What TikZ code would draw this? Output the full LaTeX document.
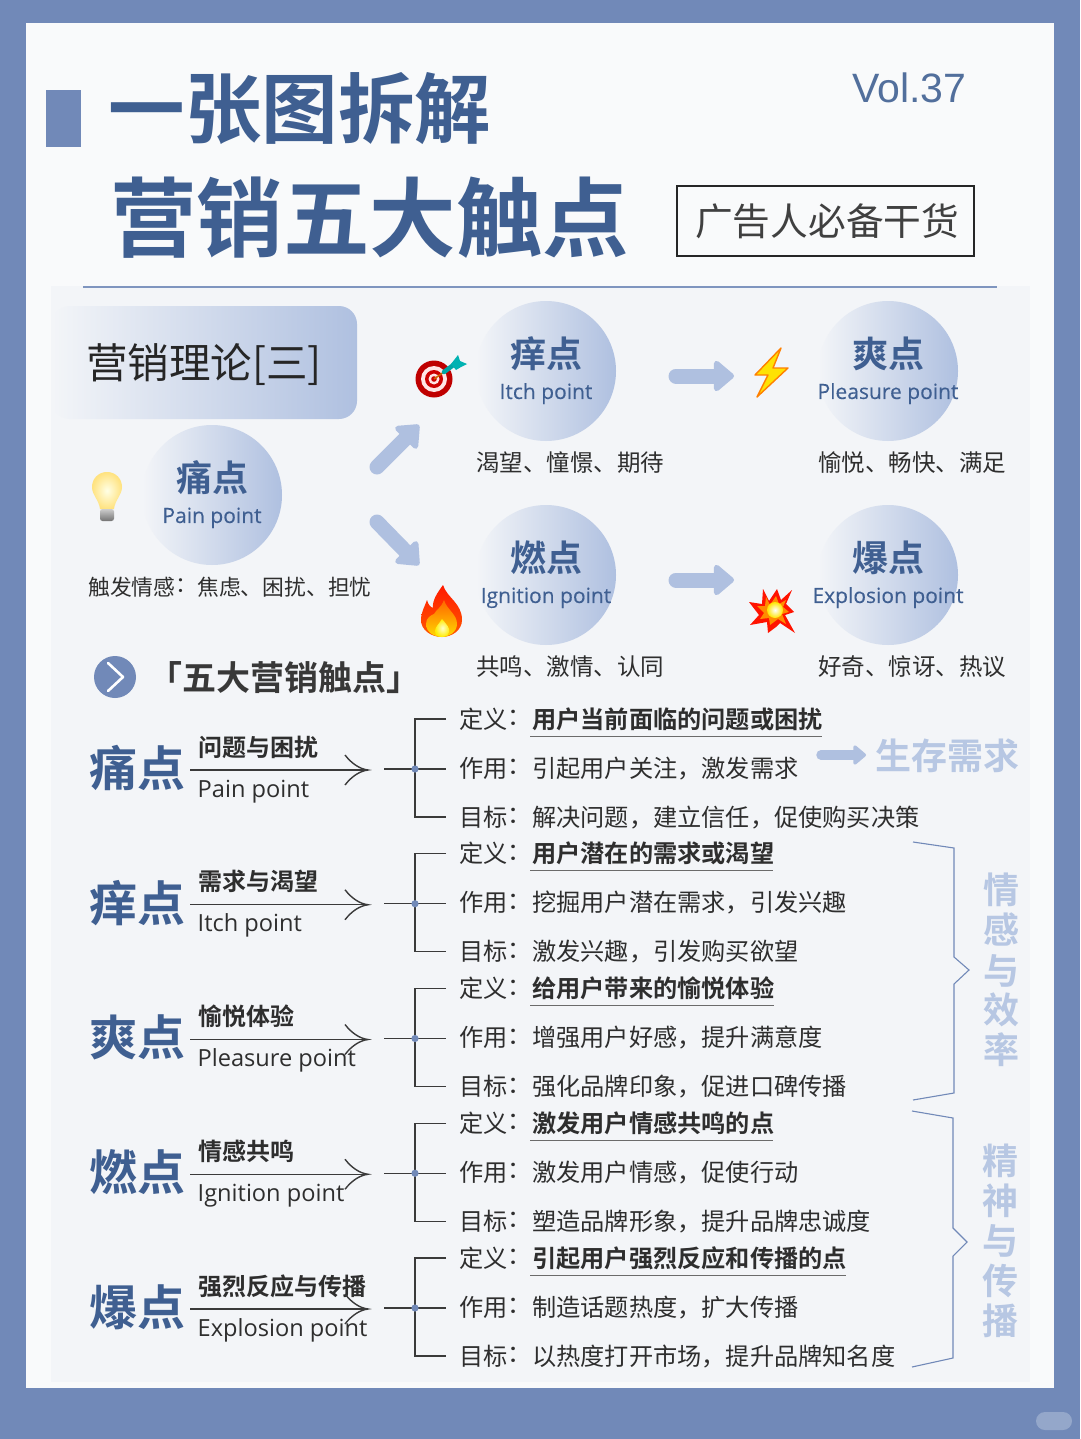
\documentclass[tikz,border=0pt]{standalone}
\usepackage{fontspec}
\usetikzlibrary{arrows.meta}
\setmainfont{Noto Sans CJK SC}[BoldFont={Noto Sans CJK SC Bold}]
\newfontfamily\latinf{Open Sans}
\newfontfamily\latinb{Open Sans}[FakeBold=0.25]
\newfontfamily\volf{Liberation Sans}
\definecolor{outerc}{HTML}{7189B8}
\definecolor{paper}{HTML}{F9FAFB}
\definecolor{panel}{HTML}{F3F5F8}
\definecolor{blued}{HTML}{3F5F91}
\definecolor{bluel}{HTML}{AFC0E0}
\definecolor{bluet}{HTML}{B7C7E3}
\definecolor{ink}{HTML}{2E2E2E}
\definecolor{line}{HTML}{3A3A3A}
\newcommand\mylabel[6][]{\node (#2) [anchor=base west, inner sep=0pt, font=\fontsize{#5}{#5}\selectfont, text=ink, #1] at (#3,{#4+0.38*#5}) {#6};}
\newcommand\ucolon{\raisebox{2.6pt}{：}}
\tikzset{
  blockarrow/.style={draw=bluel, line width=#1, line cap=round, -{Triangle[round,length=#1*1.45,width=#1*2.35]}},
  blockarrow/.default=15pt,
  conn/.style={draw=line, line width=1.4pt},
  brace/.style={draw=outerc, line width=1.1pt, line join=miter},
  under/.style={draw=line!75, line width=1pt},
  cen/.style={anchor=base},
}
\newcommand\pointcircle[6]{%
  \shade[left color=panel, right color=bluel] (#2,#3) circle (70);
  \mylabel[cen,text=blued,font=\fontsize{36}{36}\selectfont\bfseries]{#1t}{#2}{#3-17}{36}{#5}
  \mylabel[cen,text=blued,font=\fontsize{21}{21}\selectfont\latinb]{#1e}{#2}{#3+20}{21}{#6}
}
\begin{document}
\begin{tikzpicture}[x=1pt,y=-1pt]
\useasboundingbox (0,0) rectangle (1080,1439);
\fill[outerc] (0,0) rectangle (1080,1439);
\fill[paper] (26,23) rectangle (1054,1388);
\fill[panel] (51,286) rectangle (1030,1382);
\fill[white!25!outerc, rounded corners=9pt] (1036,1412) rectangle (1072,1430);
% header
\fill[outerc] (46,90) rectangle (81,147);
\mylabel[text=blued,font=\fontsize{76.5}{76.5}\selectfont\bfseries]{title1}{108.5}{108}{76.5}{一张图拆解}
\mylabel[text=blued,font=\fontsize{86.5}{86.5}\selectfont\bfseries]{title2}{110}{218}{86.5}{营销五大触点}
\node (vol) [anchor=base west, inner sep=0pt, text=blued!90!white, font=\fontsize{41}{41}\selectfont\volf] at (852,103) {Vol.37};
\draw[line width=1.3pt, draw=black!85] (677,186) rectangle (974,256);
\mylabel[font=\fontsize{37.7}{37.7}\selectfont, text=black!75]{tag}{695}{221}{37.7}{广告人必备干货}
\draw[outerc!90!white, line width=1.6pt] (83,287) -- (997,287);
% theory box
\shade[left color=panel, right color=bluel, rounded corners=18pt] (52,306) rectangle (357,419);
\mylabel[font=\fontsize{41.5}{41.5}\selectfont, text=black!85]{theory}{86}{363}{41.5}{营销理论[三]}
% circles
\pointcircle{pain}{212}{495}{0}{痛点}{Pain point}
\pointcircle{itch}{546}{371}{0}{痒点}{Itch point}
\pointcircle{plea}{888}{371}{0}{爽点}{Pleasure point}
\pointcircle{igni}{546}{575}{0}{燃点}{Ignition point}
\pointcircle{expl}{888}{575}{0}{爆点}{Explosion point}
\mylabel[font=\fontsize{21.8}{21.8}\selectfont]{painsub}{88}{587}{21.8}{触发情感\ucolon 焦虑、困扰、担忧}
\mylabel[font=\fontsize{23.5}{23.5}\selectfont]{itchsub}{476}{462.5}{23.5}{渴望、憧憬、期待}
\mylabel[font=\fontsize{23.5}{23.5}\selectfont]{pleasub}{818}{462.5}{23.5}{愉悦、畅快、满足}
\mylabel[font=\fontsize{23.5}{23.5}\selectfont]{ignisub}{476}{666.5}{23.5}{共鸣、激情、认同}
\mylabel[font=\fontsize{23.5}{23.5}\selectfont]{explsub}{818}{666.5}{23.5}{好奇、惊讶、热议}
% block arrows
\coordinate (a1s) at (377,467); \coordinate (a1e) at (419,425);
\coordinate (a2s) at (377,522); \coordinate (a2e) at (419,565);
\coordinate (a3s) at (676,376); \coordinate (a3e) at (734,376);
\coordinate (a4s) at (676,580); \coordinate (a4e) at (734,580);
\coordinate (a5s) at (821,755); \coordinate (a5e) at (866,755);
\draw[blockarrow] (a1s) -- (a1e);
\draw[blockarrow] (a2s) -- (a2e);
\draw[blockarrow] (a3s) -- (a3e);
\draw[blockarrow] (a4s) -- (a4e);
\draw[blockarrow=9.5pt] (a5s) -- (a5e);
% bulb
\shade[inner color=white!90!yellow, outer color=yellow!55!orange!50!white] (107,472) .. controls (98,472) and (92,479) .. (92,487) .. controls (92,495) and (99,500) .. (100,509) -- (114,509) .. controls (115,500) and (122,495) .. (122,487) .. controls (122,479) and (116,472) .. (107,472) -- cycle;
\shade[top color=black!20, bottom color=black!55, rounded corners=2.5pt] (100,509) rectangle (114,521);
% target
\fill[red!75!black] (434,379) circle (18.5);
\fill[white!90!red] (434,379) circle (13);
\fill[red!80!black] (434,379) circle (9);
\fill[white!90!red] (434,379) circle (5.5);
\fill[red!80!black] (434,379) circle (2.8);
\draw[orange!80!black,line width=1.6pt] (434,379) -- (444,372);
\draw[teal!70!cyan,line width=4.5pt,line cap=round] (444,372) -- (456,363);
\fill[teal!60!cyan] (451,364) -- (458,355) -- (460,361) -- (467,364) -- (461,367) -- (456,370) -- cycle;
% bolt
\draw[draw=orange, fill=yellow!85!orange, line width=1.4pt, line join=round] (781,348) -- (755,375) -- (768,375) -- (757,397) -- (788,368) -- (773,368) -- cycle;
% flame
\shade[top color=red!80!orange, bottom color=orange!70!red] (443,585) .. controls (447,598) and (462,603) .. (462,620) .. controls (462,630) and (452,637) .. (442,637) .. controls (431,637) and (421,630) .. (421,620) .. controls (421,612) and (425,606) .. (427,600) .. controls (428,604) and (430,607) .. (433,608) .. controls (432,600) and (438,592) .. (443,585) -- cycle;
\shade[top color=orange!80!red, bottom color=yellow!70!orange] (444,600) .. controls (447,610) and (457,614) .. (457,624) .. controls (457,632) and (449,637) .. (442,637) .. controls (434,637) and (426,632) .. (426,624) .. controls (426,618) and (431,615) .. (434,614) .. controls (436,610) and (441,608) .. (444,600) -- cycle;
\shade[inner color=white!80!yellow, outer color=yellow!85!orange] (442,619) .. controls (447,625) and (450,628) .. (449,632) .. controls (448,636) and (445,637) .. (442,637) .. controls (438,637) and (435,635) .. (435,631) .. controls (435,627) and (439,624) .. (442,619) -- cycle;
% explosion
\fill[red!85!orange,line join=miter] (763,589) -- (769,601) -- (777,589) -- (781,600) -- (792,590) -- (786,604) -- (794,612) -- (785,615) -- (795,633) -- (780,623) -- (776,627) -- (768,633) -- (767,622) -- (750,625) -- (759,615) -- (749,602) -- (762,604) -- cycle;
\fill[orange!90!yellow] (766,597) -- (770,605) -- (776,596) -- (779,604) -- (786,600) -- (783,607) -- (789,612) -- (782,614) -- (786,624) -- (778,619) -- (770,625) -- (769,618) -- (760,619) -- (764,613) -- (757,606) -- (765,606) -- cycle;
\shade[inner color=white, outer color=yellow!80!orange] (775,610) circle (8);
% section heading
\fill[outerc] (115,677) circle (21);
\coordinate (ch1) at (108,663); \coordinate (ch2) at (123,677); \coordinate (ch3) at (108,691);
\draw[white, line width=2.6pt, line join=round, line cap=round] (ch1) -- (ch2) -- (ch3);
\mylabel[font=\fontsize{34}{34}\selectfont\bfseries, text=black!78]{sect}{148}{678}{34}{「五大营销触点」}
% rows
\foreach \i/\nm/\hd/\en/\de/\ro/\go/\ux in {
 0/痛点/问题与困扰/Pain point/用户当前面临的问题或困扰/引起用户关注，激发需求/解决问题，建立信任，促使购买决策/822,
 1/痒点/需求与渴望/Itch point/用户潜在的需求或渴望/挖掘用户潜在需求，引发兴趣/激发兴趣，引发购买欲望/773,
 2/爽点/愉悦体验/Pleasure point/给用户带来的愉悦体验/增强用户好感，提升满意度/强化品牌印象，促进口碑传播/774,
 3/燃点/情感共鸣/Ignition point/激发用户情感共鸣的点/激发用户情感，促使行动/塑造品牌形象，提升品牌忠诚度/773,
 4/爆点/强烈反应与传播/Explosion point/引起用户强烈反应和传播的点/制造话题热度，扩大传播/以热度打开市场，提升品牌知名度/846}{
  \pgfmathsetmacro\dy{\i*134.75}
  \begin{scope}[yshift={-\dy pt}]
    \mylabel[text=blued,font=\fontsize{48}{48}\selectfont\bfseries]{big\i}{89}{768}{48}{\nm}
    \mylabel[font=\fontsize{24}{24}\selectfont\bfseries]{head\i}{198}{747}{24}{\hd}
    \node (eng\i) [anchor=base west, inner sep=0pt, text=ink, font=\fontsize{23.6}{23.6}\selectfont\latinf] at (197.5,797) {\en};
    \coordinate (as\i) at (190,770); \coordinate (ae\i) at (368,770);
    \coordinate (hu\i) at (345,755); \coordinate (hd\i) at (345,785);
    \draw[conn] (as\i) -- (ae\i);
    \draw[conn] (hu\i) .. controls (352,764) and (360,769) .. (ae\i) .. controls (360,771) and (352,776) .. (hd\i);
    \coordinate (js\i) at (384,769); \coordinate (j\i) at (415,769); \coordinate (je\i) at (446,769);
    \coordinate (jt\i) at (415,719); \coordinate (jb\i) at (415,817);
    \coordinate (jte\i) at (446,719); \coordinate (jbe\i) at (446,817);
    \draw[conn] (js\i) -- (je\i);
    \draw[conn] (jte\i) -- (jt\i) -- (jb\i) -- (jbe\i);
    \fill[outerc] (j\i) circle (3.6);
    \mylabel[font=\fontsize{24.2}{24.2}\selectfont]{l1\i}{459}{719}{24.2}{定义\ucolon}
    \mylabel[font=\fontsize{24.2}{24.2}\selectfont]{l2\i}{459}{768}{24.2}{作用\ucolon}
    \mylabel[font=\fontsize{24.2}{24.2}\selectfont]{l3\i}{459}{817}{24.2}{目标\ucolon}
    \mylabel[font=\fontsize{24.2}{24.2}\selectfont\bfseries]{d\i}{532}{719}{24.2}{\de}
    \mylabel[font=\fontsize{24.2}{24.2}\selectfont]{r\i}{532}{768}{24.2}{\ro}
    \mylabel[font=\fontsize{24.2}{24.2}\selectfont]{g\i}{532}{817}{24.2}{\go}
    \coordinate (us\i) at (530,736); \coordinate (ue\i) at (\ux,736);
    \draw[under] (us\i) -- (ue\i);
  \end{scope}
}
% side labels
\mylabel[text=bluet,font=\fontsize{36}{36}\selectfont\bfseries]{need}{875}{756}{36}{生存需求}
\coordinate (b11) at (913,842); \coordinate (b12) at (954,848); \coordinate (b13) at (954,957); \coordinate (b14) at (969,970); \coordinate (b15) at (954,984); \coordinate (b16) at (954,1093); \coordinate (b17) at (913,1100);
\draw[brace] (b11) -- (b12) -- (b13) -- (b14) -- (b15) -- (b16) -- (b17);
\coordinate (b21) at (912,1111); \coordinate (b22) at (953,1118); \coordinate (b23) at (953,1228); \coordinate (b24) at (967,1242); \coordinate (b25) at (953,1256); \coordinate (b26) at (953,1358); \coordinate (b27) at (912,1367);
\draw[brace] (b21) -- (b22) -- (b23) -- (b24) -- (b25) -- (b26) -- (b27);
\foreach \c/\y [count=\k] in {情/890,感/930,与/971,效/1010,率/1050}{
  \mylabel[cen,text=bluet,font=\fontsize{36}{36}\selectfont\bfseries]{sa\k}{1001}{\y}{36}{\c}
}
\foreach \c/\y [count=\k] in {精/1161,神/1201,与/1241,传/1281,播/1321}{
  \mylabel[cen,text=bluet,font=\fontsize{36}{36}\selectfont\bfseries]{sb\k}{1000}{\y}{36}{\c}
}
\end{tikzpicture}
\end{document}
